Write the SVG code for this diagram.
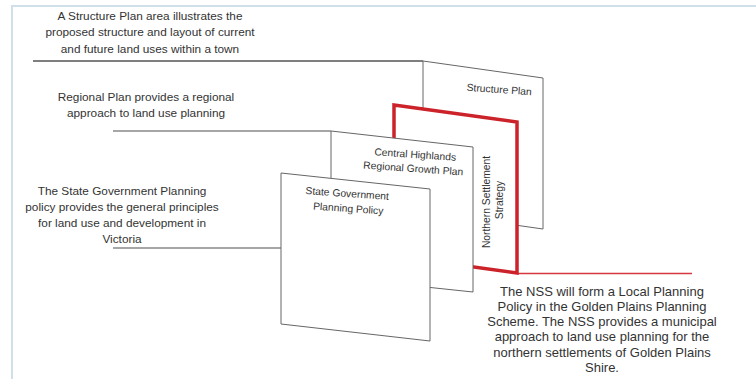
<svg xmlns="http://www.w3.org/2000/svg" width="756" height="379" viewBox="0 0 756 379">
<style>
  .desc { font-family: "Liberation Sans", Arial, sans-serif; font-size: 11.8px; fill: #333; text-anchor: middle; }
  .nss { font-family: "Liberation Sans", Arial, sans-serif; font-size: 13px; fill: #333; text-anchor: middle; }
  .lbl { font-family: "Liberation Sans", Arial, sans-serif; font-size: 10.3px; fill: #333; text-anchor: middle; }
  .panel { fill: #fff; stroke: #666; stroke-width: 1; }
  .red { fill: #fff; stroke: #cc2229; stroke-width: 3.5; stroke-linejoin: miter; }
  .conn { stroke: #555; stroke-width: 1.4; fill: none; }
  .connlight { stroke: #888; stroke-width: 1.4; fill: none; }
  .redconn { stroke: #d8393e; stroke-width: 1.6; fill: none; }
  .frame { stroke: #cfe0ea; stroke-width: 2; fill: none; }
</style>
<rect width="756" height="379" fill="#fff"/>
<path class="frame" d="M12,379 V6 H756"/>

<g id="connectors">
  <line class="conn" x1="33" y1="61" x2="423" y2="61"/>
  <line class="connlight" x1="113" y1="131" x2="331" y2="131"/>
  <line class="connlight" x1="113" y1="248" x2="281" y2="248"/>
  <line class="redconn" x1="517" y1="273.5" x2="692" y2="273.5"/>
</g>

<g id="structure-plan">
  <polygon class="panel" points="423,61 543,78 543,229 423,212"/>
  <text class="lbl" transform="translate(499,93) rotate(4)">Structure Plan</text>
</g>

<g id="northern-settlement-strategy">
  <polygon class="red" points="394,105 517,122 517,273 394,256"/>
  <text class="lbl" transform="translate(490,202) rotate(-90)">Northern Settlement</text>
  <text class="lbl" transform="translate(503,200) rotate(-90)">Strategy</text>
</g>

<g id="central-highlands">
  <polygon class="panel" points="331,131 473,147 473,292 331,277"/>
  <text class="lbl" transform="translate(415,158) rotate(4)">Central Highlands</text>
  <text class="lbl" transform="translate(413,172) rotate(4)">Regional Growth Plan</text>
</g>

<g id="state-government">
  <polygon class="panel" points="281,173 430,189 430,341 281,324"/>
  <text class="lbl" transform="translate(347,197) rotate(4)">State Government</text>
  <text class="lbl" transform="translate(348,212) rotate(4)">Planning Policy</text>
</g>

<g id="structure-plan-note">
  <text class="desc" x="150" y="19.5">A Structure Plan area illustrates the</text>
  <text class="desc" x="150" y="36">proposed structure and layout of current</text>
  <text class="desc" x="150" y="52.5">and future land uses within a town</text>
</g>

<g id="regional-plan-note">
  <text class="desc" x="146" y="100.5">Regional Plan provides a regional</text>
  <text class="desc" x="146" y="117">approach to land use planning</text>
</g>

<g id="state-policy-note">
  <text class="desc" x="122" y="195">The State Government Planning</text>
  <text class="desc" x="122" y="211">policy provides the general principles</text>
  <text class="desc" x="122" y="227">for land use and development in</text>
  <text class="desc" x="122" y="243">Victoria</text>
</g>

<g id="nss-note">
  <text class="nss" x="602" y="296">The NSS will form a Local Planning</text>
  <text class="nss" x="602" y="311">Policy in the Golden Plains Planning</text>
  <text class="nss" x="602" y="326">Scheme. The NSS provides a municipal</text>
  <text class="nss" x="602" y="341">approach to land use planning for the</text>
  <text class="nss" x="602" y="357">northern settlements of Golden Plains</text>
  <text class="nss" x="602" y="372">Shire.</text>
</g>
</svg>
